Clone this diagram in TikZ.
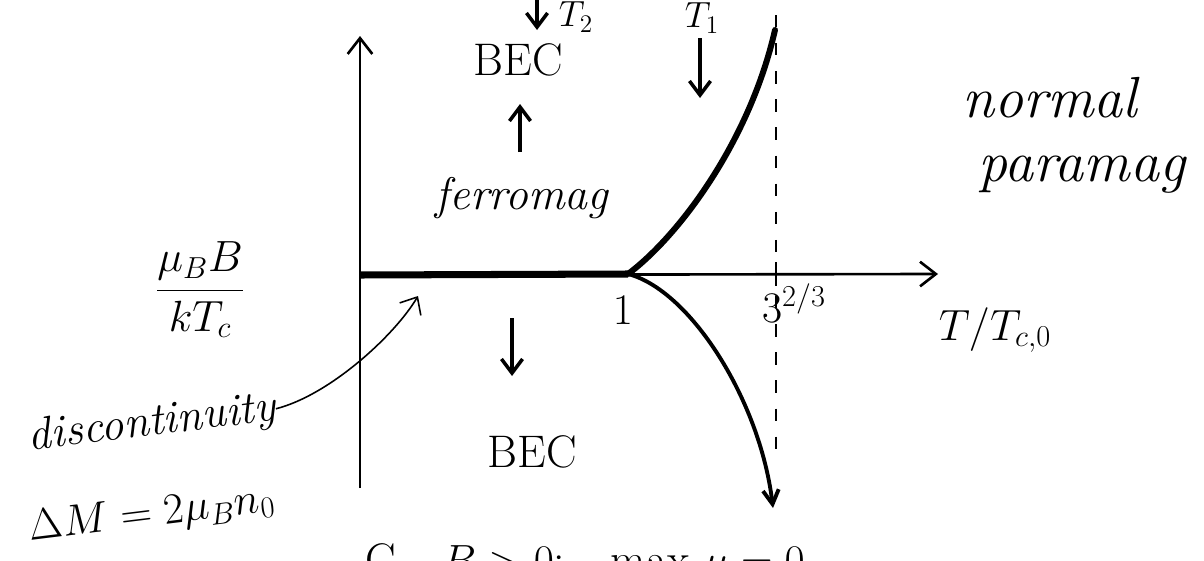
\documentclass[tikz,border=0pt]{standalone}
\usepackage{amsmath}
\usepackage{amssymb}
\usepackage{tikz}
\usetikzlibrary{
  arrows.meta,   % 箭头样式
  calc,          % 坐标计算
  positioning    % 节点相对定位
}
\tikzset{
  axis line/.style={
    -{Straight Barb[length=9pt,width=14pt]},
    line width=1.5pt
  },
  phase line/.style={
    line width=4pt
  },
  upper branch/.style={
    line width=3.4pt,
    line cap=round
  },
  lower branch/.style={
    -{Straight Barb[length=8pt,width=9pt]},
    line width=2.2pt
  },
  hand arrow/.style={
    -{Straight Barb[length=8pt,width=12pt]},
    line width=2pt
  },
  note arrow/.style={
    -{Straight Barb[length=8pt,width=14pt]},
    line width=0.9pt
  },
  guide line/.style={
    dash pattern=on 7pt off 9pt,
    line width=1pt
  },
  hand label/.style={
    font=\fontsize{26}{30}\selectfont,
    inner sep=1pt
  },
  word label/.style={
    font=\fontsize{26}{30}\selectfont\itshape,
    inner sep=1pt
  },
  big label/.style={
    font=\fontsize{33}{38}\selectfont\itshape,
    inner sep=1pt
  }
}

\begin{document}
\begin{tikzpicture}[x=0.02cm, y=-0.02cm]
  % 画布与参考图同比例 (1 单位 = 1 像素)
  \useasboundingbox (0,0) rectangle (1204,561);

  % 1. 坐标轴
  \coordinate (origin) at (360,275);
  \coordinate (ybot) at (360,488);
  \coordinate (ytop) at (360,36);
  \coordinate (xtip) at (938,274);
  \coordinate (crit) at (628,274);
  \coordinate (tick) at (776,274);
  \draw[axis line] (ybot) -- (ytop);
  \draw[axis line] (origin) -- (xtip);

  % 2. 铁磁相中的不连续线 (加粗)
  \draw[phase line] (origin) -- (crit);

  % 3. 竖直虚线与刻度 3^{2/3}
  \coordinate (dtop) at (776,15);
  \coordinate (dbot) at (776,455);
  \draw[guide line] (dtop) -- (dbot);
  \draw[line width=1.5pt] ($(tick)+(0,-12)$) -- ($(tick)+(0,12)$);

  % 4. 两条相界
  \coordinate (T1end) at (775,30);
  \coordinate (T2end) at (773,508);
  \draw[upper branch] (crit) .. controls (680,235) and (750,140) .. (T1end);
  \draw[lower branch] (crit) .. controls (690,290) and (760,400) .. (T2end);

  % 5. 轴上标注
  \node[hand label] (one) at (623,310) {$1$};
  \node[hand label] (cube) at (794,303) {$3^{2/3}$};
  \node[hand label] (taxis) at (995,330) {$T/T_{c,0}$};
  \node[hand label, font=\fontsize{24}{28}\selectfont] (field) at (200,290) {$\dfrac{\mu_B B}{kT_c}$};

  % 6. 各区域
  \node[big label] (normal) at (1050,98) {normal};
  \node[big label] (paramag) at (1082,175) {paramag};
  \node[hand label] (becup) at (518,60) {BEC};
  \node[word label] (ferro) at (522,198) {ferromag};
  \node[hand label] (becdown) at (532,452) {BEC};
  \coordinate (upfrom) at (520,152);
  \coordinate (upto) at (520,104);
  \draw[hand arrow] (upfrom) -- (upto);
  \coordinate (dnfrom) at (512,318);
  \coordinate (dnto) at (512,376);
  \draw[hand arrow] (dnfrom) -- (dnto);

  % 7. 温度 T_1, T_2
  \node[hand label, font=\fontsize{20}{24}\selectfont] (T1) at (702,18) {$T_1$};
  \coordinate (T1from) at (700,38);
  \coordinate (T1to) at (700,98);
  \draw[hand arrow] (T1from) -- (T1to);
  \node[hand label, font=\fontsize{20}{24}\selectfont] (T2) at (576,17) {$T_2$};
  \coordinate (T2from) at (537,0);
  \coordinate (T2to) at (537,30);
  \draw[hand arrow] (T2from) -- (T2to);

  % 8. 不连续的注释
  \node[word label, rotate=7, inner sep=0pt] (disc) at (152,424) {discontinuity};
  \node[hand label, rotate=7, inner sep=0pt] (jump) at (152,515) {$\Delta M = 2\mu_B n_0$};
  \coordinate (discend) at (418,296);
  \draw[note arrow] (disc.east) .. controls (330,395) and (395,335) .. (discend);

  % 9. 底部 (被截断)
  \node[hand label, anchor=north] (cond) at (585,541) {C\quad $B>0$:\quad max $\mu = 0$};
\end{tikzpicture}
\end{document}
